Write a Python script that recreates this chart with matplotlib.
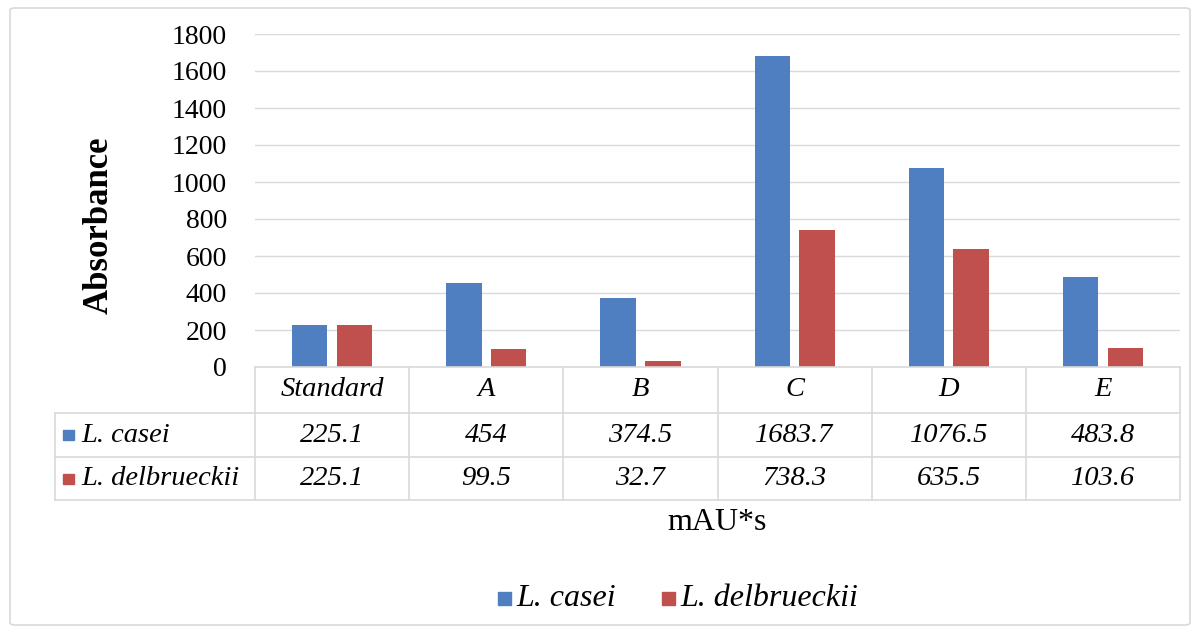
import numpy as np
import matplotlib
matplotlib.use("Agg")
import matplotlib.pyplot as plt
from matplotlib.patches import FancyBboxPatch, Rectangle
from matplotlib.lines import Line2D

# data
categories = ["Standard", "A", "B", "C", "D", "E"]
series_names = ["L. casei", "L. delbrueckii"]
casei = [225.1, 454, 374.5, 1683.7, 1076.5, 483.8]
delbrueckii = [225.1, 99.5, 32.7, 738.3, 635.5, 103.6]
casei_txt = ["225.1", "454", "374.5", "1683.7", "1076.5", "483.8"]
delb_txt = ["225.1", "99.5", "32.7", "738.3", "635.5", "103.6"]
yticks = [0, 200, 400, 600, 800, 1000, 1200, 1400, 1600, 1800]

BLUE = "#4F7EC1"
RED = "#C0504D"
GRID = "#D9D9D9"

plt.rcParams["font.family"] = ["Liberation Serif", "DejaVu Serif"]

W, H = 1203, 633
fig = plt.figure(figsize=(W / 100, H / 100), dpi=100)


def fx(px):
    return px / W


def fy(py):
    return 1 - py / H


# outer chart border (kept behind the axes)
fig.patches.append(FancyBboxPatch((fx(10), fy(625)), fx(1190) - fx(10), fy(8) - fy(625),
                                  boxstyle="round,pad=0,rounding_size=0.004",
                                  transform=fig.transFigure, fc="white", ec="#D9D9D9",
                                  lw=1.2, zorder=-5))

x_left, x_right = 255, 1180
y_zero, y_top = 367, 34
ax = fig.add_axes([fx(x_left), fy(y_zero), fx(x_right) - fx(x_left), fy(y_top) - fy(y_zero)])
ax.set_facecolor("none")

x = np.arange(len(categories))
bw = 0.23
gap = 0.06
ax.bar(x - (bw + gap) / 2, casei, bw, color=BLUE, zorder=3)
ax.bar(x + (bw + gap) / 2, delbrueckii, bw, color=RED, zorder=3)

ax.set_xlim(-0.5, len(categories) - 0.5)
ax.set_ylim(0, 1800)
ax.set_yticks(yticks)
ax.set_yticklabels([str(t) for t in yticks], fontsize=20)
ax.tick_params(axis="y", length=0, pad=20)
ax.set_xticks([])
for s in ax.spines.values():
    s.set_visible(False)
ax.grid(axis="y", color=GRID, lw=1.0, zorder=0)
ax.set_axisbelow(True)

fig.text(fx(99), fy(225), "Absorbance", rotation=90, ha="center", va="center",
         fontsize=25, fontweight="bold")

# data table under the plot
rows = [367, 413, 457, 500]
cw = (x_right - x_left) / len(categories)
col_edges = [x_left + i * cw for i in range(len(categories) + 1)]
legend_left = 55


def hline(y, x0, x1):
    fig.add_artist(Line2D([fx(x0), fx(x1)], [fy(y), fy(y)], color=GRID, lw=1.2))


def vline(xp, y0, y1):
    fig.add_artist(Line2D([fx(xp), fx(xp)], [fy(y0), fy(y1)], color=GRID, lw=1.2))


hline(rows[0], x_left, x_right)
for r in rows[1:]:
    hline(r, legend_left, x_right)
vline(legend_left, rows[1], rows[3])
for ce in col_edges:
    vline(ce, rows[0], rows[3])

for i, cat in enumerate(categories):
    cx = (col_edges[i] + col_edges[i + 1]) / 2
    fig.text(fx(cx), fy((rows[0] + rows[1]) / 2), cat, ha="center", va="center",
             fontsize=20.5, style="italic")
    fig.text(fx(cx), fy((rows[1] + rows[2]) / 2), casei_txt[i], ha="center", va="center",
             fontsize=20.5, style="italic")
    fig.text(fx(cx), fy((rows[2] + rows[3]) / 2), delb_txt[i], ha="center", va="center",
             fontsize=20.5, style="italic")

for r, name, col in [(0, series_names[0], BLUE), (1, series_names[1], RED)]:
    yc = (rows[1 + r] + rows[2 + r]) / 2
    fig.patches.append(Rectangle((fx(63), fy(yc + 5)), fx(11), fy(yc - 5) - fy(yc + 5),
                                 transform=fig.transFigure, color=col))
    fig.text(fx(81), fy(yc), name, ha="left", va="center", fontsize=20.5, style="italic")

fig.text(fx(717), fy(523), "mAU*s", ha="center", va="center", fontsize=23)

# legend
for xs, name, col in [(498, series_names[0], BLUE), (662, series_names[1], RED)]:
    fig.patches.append(Rectangle((fx(xs), fy(605)), fx(13), fy(592) - fy(605),
                                 transform=fig.transFigure, color=col))
    fig.text(fx(xs + 18), fy(598), name, ha="left", va="center", fontsize=23, style="italic")

fig.savefig("out.png", dpi=100)
